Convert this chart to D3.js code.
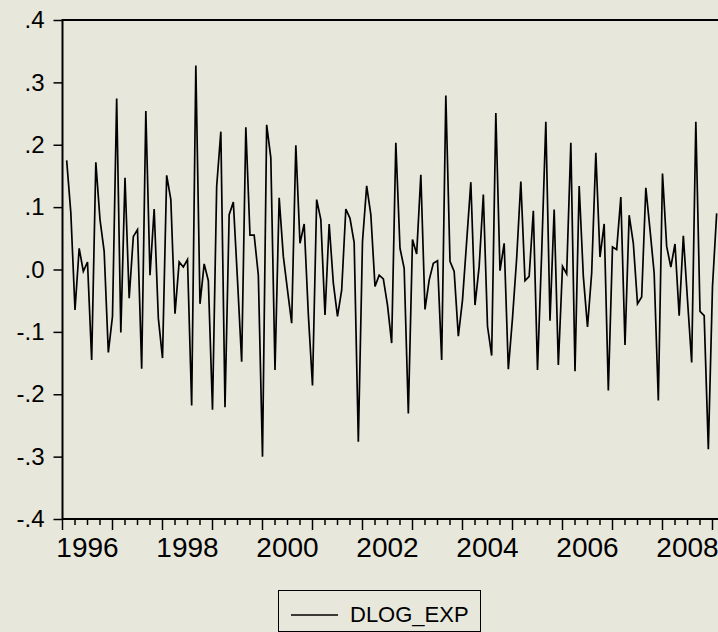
<!DOCTYPE html>
<html>
<head>
<meta charset="utf-8">
<script src="https://d3js.org/d3.v7.min.js"></script>
<style>
  body { margin: 0; background: #e7e7db; }
  svg { display: block; }
</style>
</head>
<body>
<div id="graphics"></div>
<script>
var width = 718, height = 632;

// monthly series, first observation 1996M02 (index 1 = months since 1996M01)
var startIndex = 1;
var dlogExp = [
  0.175, 0.091, -0.065, 0.034, -0.003, 0.012, -0.145, 0.172, 0.080, 0.029,
  -0.133, -0.075, 0.274, -0.101, 0.147, -0.046, 0.053, 0.064, -0.159, 0.254,
  -0.009, 0.097, -0.078, -0.142, 0.151, 0.112, -0.071, 0.012, 0.004, 0.016,
  -0.218, 0.327, -0.055, 0.009, -0.018, -0.225, 0.133, 0.221, -0.221, 0.088,
  0.108, -0.017, -0.148, 0.228, 0.055, 0.055, -0.009, -0.300, 0.232, 0.179,
  -0.161, 0.115, 0.021, -0.033, -0.086, 0.199, 0.042, 0.073, -0.072, -0.186,
  0.112, 0.080, -0.073, 0.073, -0.022, -0.075, -0.033, 0.097, 0.082, 0.043,
  -0.276, 0.045, 0.134, 0.088, -0.027, -0.009, -0.015, -0.057, -0.118, 0.203,
  0.034, 0.002, -0.231, 0.048, 0.025, 0.152, -0.064, -0.017, 0.010, 0.014,
  -0.145, 0.279, 0.013, -0.003, -0.107, -0.049, 0.045, 0.140, -0.057, 0.005,
  0.120, -0.091, -0.138, 0.251, -0.002, 0.042, -0.160, -0.078, 0.018, 0.141,
  -0.018, -0.011, 0.094, -0.161, 0.026, 0.237, -0.082, 0.096, -0.153, 0.005,
  -0.007, 0.203, -0.163, 0.134, -0.011, -0.092, -0.006, 0.187, 0.020, 0.073,
  -0.194, 0.036, 0.032, 0.116, -0.121, 0.087, 0.042, -0.055, -0.044, 0.131,
  0.064, -0.006, -0.210, 0.154, 0.037, 0.004, 0.041, -0.074, 0.054, -0.049,
  -0.149, 0.237, -0.067, -0.074, -0.288, -0.027, 0.090
];
var yTicks = [-0.4, -0.3, -0.2, -0.1, 0.0, 0.1, 0.2, 0.3, 0.4];
var yTickLabels = ['-.4', '-.3', '-.2', '-.1', '.0', '.1', '.2', '.3', '.4'];
var yearLabels = [1996, 1998, 2000, 2002, 2004, 2006, 2008];
var firstYear = 1996;
var seriesName = "DLOG_EXP";

drawChart();

function drawChart() {

var svg = d3.select('#graphics')
  .append('svg')
  .attr('width', width)
  .attr('height', height);

svg.append('rect')
  .attr('width', width)
  .attr('height', height)
  .attr('fill', '#e7e7db');

var plotLeft = 62.5, plotTop = 20, plotBottom = 519;

// one year = 50px, so the frame runs off the right edge of the window
var x = d3.scaleLinear()
  .domain([0, 158])
  .range([plotLeft, plotLeft + 158 * 50 / 12]);

var y = d3.scaleLinear()
  .domain([-0.4, 0.4])
  .range([plotBottom, plotTop]);

// frame
svg.append('line')
  .attr('x1', plotLeft).attr('x2', plotLeft + 700)
  .attr('y1', plotTop).attr('y2', plotTop)
  .attr('stroke', '#000').attr('stroke-width', 2);
svg.append('line')
  .attr('x1', plotLeft).attr('x2', plotLeft + 700)
  .attr('y1', plotBottom).attr('y2', plotBottom)
  .attr('stroke', '#000').attr('stroke-width', 2);
svg.append('line')
  .attr('x1', plotLeft).attr('x2', plotLeft)
  .attr('y1', plotTop - 1).attr('y2', plotBottom + 1)
  .attr('stroke', '#000').attr('stroke-width', 2);

// y axis
var yAxis = svg.append('g')
  .attr('transform', 'translate(' + plotLeft + ',0)')
  .call(d3.axisLeft(y).tickValues(yTicks)
    .tickFormat(function(d, i) { return yTickLabels[i]; })
    .tickSize(9).tickPadding(9));
yAxis.select('.domain').remove();
yAxis.selectAll('line').attr('stroke', '#000').attr('stroke-width', 1.5);
yAxis.selectAll('text')
  .attr('fill', '#000')
  .style('font-family', 'Arial, "Liberation Sans", sans-serif')
  .style('font-size', '24px');

// x axis: quarterly ticks, long ones at each year
var quarters = d3.range(0, 159, 3);
svg.append('g').selectAll('line')
  .data(quarters).enter().append('line')
  .attr('x1', d => x(d)).attr('x2', d => x(d))
  .attr('y1', plotBottom)
  .attr('y2', d => d % 12 == 0 ? plotBottom + 11 : plotBottom + 6)
  .attr('stroke', '#000')
  .attr('stroke-width', 1.5);

svg.append('g').selectAll('text')
  .data(yearLabels).enter().append('text')
  .attr('x', d => x((d - firstYear) * 12 + 6))
  .attr('y', 557)
  .attr('text-anchor', 'middle')
  .style('font-family', 'Arial, "Liberation Sans", sans-serif')
  .style('font-size', '28px')
  .text(d => d);

// series line
var line = d3.line()
  .x(function(d, i) { return x(startIndex + i); })
  .y(function(d) { return y(d); });

svg.append('path')
  .datum(dlogExp)
  .attr('fill', 'none')
  .attr('stroke', '#000')
  .attr('stroke-width', 1.7)
  .attr('stroke-linejoin', 'miter')
  .attr('d', line);

// legend
var legend = svg.append('g');
legend.append('rect')
  .attr('x', 278.5).attr('y', 590.5)
  .attr('width', 202).attr('height', 41)
  .attr('fill', '#e7e7db')
  .attr('stroke', '#000')
  .attr('stroke-width', 1);
legend.append('line')
  .attr('x1', 291).attr('x2', 338)
  .attr('y1', 615).attr('y2', 615)
  .attr('stroke', '#000')
  .attr('stroke-width', 1.5);
legend.append('text')
  .attr('x', 350).attr('y', 622)
  .style('font-family', 'Arial, "Liberation Sans", sans-serif')
  .style('font-size', '22px')
  .text(seriesName);
}
</script>
</body>
</html>
